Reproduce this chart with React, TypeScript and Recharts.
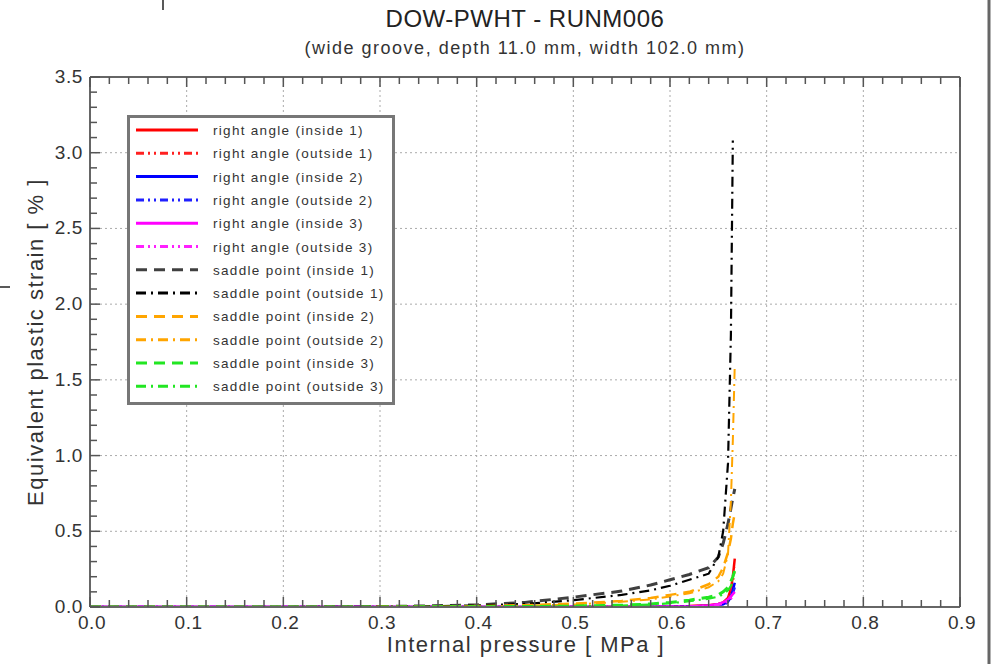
import React from 'react';
import {
  LineChart,
  Line,
  XAxis,
  YAxis,
  Legend,
  ReferenceLine,
} from 'recharts';

const FONT = '"Liberation Sans", Arial, Helvetica, sans-serif';

// internal pressure [MPa]
const pressure = [0, 0.05, 0.1, 0.15, 0.2, 0.25, 0.3, 0.35, 0.4, 0.45, 0.5, 0.55, 0.58, 0.6, 0.62, 0.64, 0.65, 0.655, 0.66, 0.663, 0.665, 0.667];

// equivalent plastic strain [%] per gauge location
const rightInside1 = [0, 0, 0, 0, 0, 0, 0, 0, 0, 0, 0, 0.001, 0.002, 0.003, 0.006, 0.012, 0.02, 0.03, 0.06, 0.12, 0.2, 0.32];
const rightOutside1 = [0, 0, 0, 0, 0, 0, 0, 0, 0, 0, 0, 0.001, 0.002, 0.003, 0.005, 0.01, 0.017, 0.025, 0.05, 0.1, 0.17, 0.26];
const rightInside2 = [0, 0, 0, 0, 0, 0, 0, 0, 0, 0, 0, 0, 0.001, 0.002, 0.004, 0.008, 0.012, 0.018, 0.035, 0.07, 0.11, 0.16];
const rightOutside2 = [0, 0, 0, 0, 0, 0, 0, 0, 0, 0, 0, 0, 0.001, 0.002, 0.003, 0.006, 0.01, 0.015, 0.03, 0.06, 0.09, 0.13];
const rightInside3 = [0, 0, 0, 0, 0, 0, 0, 0, 0, 0, 0, 0, 0.001, 0.002, 0.004, 0.01, 0.02, 0.03, 0.05, 0.07, 0.085, 0.1];
const rightOutside3 = [0, 0, 0, 0, 0, 0, 0, 0, 0, 0, 0, 0, 0.001, 0.002, 0.003, 0.008, 0.015, 0.022, 0.04, 0.055, 0.068, 0.08];
const saddleInside1 = [0, 0, 0, 0, 0, 0.001, 0.003, 0.007, 0.014, 0.03, 0.065, 0.105, 0.145, 0.18, 0.215, 0.26, 0.33, 0.42, 0.55, 0.65, 0.72, 0.78];
const saddleOutside1 = [0, 0, 0, 0, 0, 0.001, 0.002, 0.005, 0.01, 0.02, 0.045, 0.08, 0.11, 0.14, 0.18, 0.22, 0.33, 0.5, 0.95, 1.8, 3.08, null];
const saddleInside2 = [0, 0, 0, 0, 0, 0, 0.001, 0.003, 0.006, 0.012, 0.022, 0.04, 0.06, 0.08, 0.1, 0.15, 0.2, 0.26, 0.36, 0.45, 0.55, 0.62];
const saddleOutside2 = [0, 0, 0, 0, 0, 0, 0.001, 0.002, 0.005, 0.009, 0.016, 0.035, 0.05, 0.07, 0.09, 0.13, 0.17, 0.22, 0.35, 0.7, 1.1, 1.6];
const saddleInside3 = [0, 0, 0, 0, 0, 0, 0, 0.001, 0.002, 0.003, 0.006, 0.012, 0.02, 0.03, 0.045, 0.065, 0.08, 0.1, 0.13, 0.17, 0.2, 0.24];
const saddleOutside3 = [0, 0, 0, 0, 0, 0, 0, 0.001, 0.001, 0.002, 0.004, 0.009, 0.016, 0.025, 0.038, 0.055, 0.068, 0.085, 0.11, 0.14, 0.16, 0.18];

const xTickLabels = [0, 0.1, 0.2, 0.3, 0.4, 0.5, 0.6, 0.7, 0.8, 0.9];
const yTickLabels = [0, 0.5, 1.0, 1.5, 2.0, 2.5, 3.0, 3.5];

// minor ticks: every 0.02 MPa and every 0.1 %
const xTicks = Array.from({ length: 46 }, (_, i) => Math.round(i * 2) / 100);
const yTicks = Array.from({ length: 36 }, (_, i) => Math.round(i) / 10);

const SOLID = undefined;
const DASH_DOT_DOT = '8 4 2 4 2 4';
const DASHED = '11 7';
const DASH_DOT = '10 5 2 5';

const series = [
  { key: 'ri1', name: 'right angle (inside 1)', values: rightInside1, color: '#ff0000', dash: SOLID, width: 2.5 },
  { key: 'ro1', name: 'right angle (outside 1)', values: rightOutside1, color: '#ff2020', dash: DASH_DOT_DOT, width: 2.5 },
  { key: 'ri2', name: 'right angle (inside 2)', values: rightInside2, color: '#0000ff', dash: SOLID, width: 2.5 },
  { key: 'ro2', name: 'right angle (outside 2)', values: rightOutside2, color: '#2020ff', dash: DASH_DOT_DOT, width: 2.5 },
  { key: 'ri3', name: 'right angle (inside 3)', values: rightInside3, color: '#ff00ff', dash: SOLID, width: 2.5 },
  { key: 'ro3', name: 'right angle (outside 3)', values: rightOutside3, color: '#ff20ff', dash: DASH_DOT_DOT, width: 2.5 },
  { key: 'si1', name: 'saddle point (inside 1)', values: saddleInside1, color: '#404040', dash: DASHED, width: 3 },
  { key: 'so1', name: 'saddle point (outside 1)', values: saddleOutside1, color: '#000000', dash: DASH_DOT, width: 2.2 },
  { key: 'si2', name: 'saddle point (inside 2)', values: saddleInside2, color: '#ffa500', dash: DASHED, width: 2.5 },
  { key: 'so2', name: 'saddle point (outside 2)', values: saddleOutside2, color: '#ffa500', dash: DASH_DOT, width: 2 },
  { key: 'si3', name: 'saddle point (inside 3)', values: saddleInside3, color: '#22e622', dash: DASHED, width: 3 },
  { key: 'so3', name: 'saddle point (outside 3)', values: saddleOutside3, color: '#22e622', dash: DASH_DOT, width: 2.2 },
];

const data = pressure.map((p, i) => {
  const row: Record<string, number | null> = { p };
  series.forEach((s) => {
    row[s.key] = s.values[i];
  });
  return row;
});

const isMajor = (v: number, step: number) => Math.abs(v / step - Math.round(v / step)) < 1e-6;

const TICK_COLOR = '#555';
const LABEL_STYLE = { fontFamily: FONT, fontSize: 19, letterSpacing: 0.6, fill: '#333' };

function BottomTick({ x, y, payload }: any) {
  const major = isMajor(payload.value, 0.1);
  return (
    <g>
      <line x1={x} x2={x} y1={y} y2={y - (major ? 10 : 7)} stroke={TICK_COLOR} strokeWidth={1.5} />
      {major && (
        <text x={x + 2} y={y + 22} textAnchor="middle" style={LABEL_STYLE}>
          {payload.value.toFixed(1)}
        </text>
      )}
    </g>
  );
}

function TopTick({ x, y, payload }: any) {
  const major = isMajor(payload.value, 0.1);
  return <line x1={x} x2={x} y1={y} y2={y + (major ? 10 : 7)} stroke={TICK_COLOR} strokeWidth={1.5} />;
}

function LeftTick({ x, y, payload }: any) {
  const major = isMajor(payload.value, 0.5);
  return (
    <g>
      <line x1={x} x2={x + (major ? 10 : 7)} y1={y} y2={y} stroke={TICK_COLOR} strokeWidth={1.5} />
      {major && (
        <text x={x - 7} y={y + 6} textAnchor="end" style={LABEL_STYLE}>
          {payload.value.toFixed(1)}
        </text>
      )}
    </g>
  );
}

function RightTick({ x, y, payload }: any) {
  const major = isMajor(payload.value, 0.5);
  return <line x1={x} x2={x - (major ? 10 : 7)} y1={y} y2={y} stroke={TICK_COLOR} strokeWidth={1.5} />;
}

function LegendBox() {
  return (
    <div
      style={{
        width: 262,
        height: 284,
        border: '3px solid #777',
        background: '#fff',
        fontFamily: FONT,
      }}
    >
      <svg width={262} height={284}>
        {series.map((s, i) => {
          const cy = 12 + i * 23.3;
          return (
            <g key={s.key}>
              <line
                x1={6}
                x2={68}
                y1={cy}
                y2={cy}
                stroke={s.color}
                strokeWidth={3}
                strokeDasharray={s.dash}
              />
              <text x={83} y={cy + 5} fontSize={13.5} letterSpacing={1.3} fill="#333" fontFamily={FONT}>
                {s.name}
              </text>
            </g>
          );
        })}
      </svg>
    </div>
  );
}

export default function App() {
  return (
    <div
      style={{
        position: 'absolute',
        left: 0,
        top: 0,
        width: 992,
        height: 664,
        background: '#fff',
        fontFamily: FONT,
        overflow: 'hidden',
      }}
    >
      <div style={{ position: 'absolute', left: 0, width: 1050, top: 5, textAlign: 'center', fontSize: 24, letterSpacing: 0.5, color: '#222' }}>
        DOW-PWHT - RUNM006
      </div>
      <div style={{ position: 'absolute', left: 0, width: 1050, top: 38, textAlign: 'center', fontSize: 18, letterSpacing: 1.5, color: '#333' }}>
        (wide groove, depth 11.0 mm, width 102.0 mm)
      </div>
      <div
        style={{
          position: 'absolute',
          left: 36,
          top: 342,
          transform: 'translate(-50%, -50%) rotate(-90deg)',
          whiteSpace: 'nowrap',
          fontSize: 22,
          letterSpacing: 1.5,
          color: '#333',
        }}
      >
        Equivalent plastic strain [ % ]
      </div>
      <div style={{ position: 'absolute', left: 0, width: 1052, top: 632, textAlign: 'center', fontSize: 22, letterSpacing: 1.5, color: '#333' }}>
        Internal pressure [ MPa ]
      </div>

      <div style={{ position: 'absolute', left: 0, top: 0 }}>
        <LineChart width={992} height={664} data={data} margin={{ top: 76, right: 31, bottom: 0, left: 0 }}>
          <XAxis
            dataKey="p"
            type="number"
            domain={[0, 0.9]}
            ticks={xTicks}
            interval={0}
            allowDataOverflow
            height={57}
            tickSize={0}
            tickMargin={0}
            tick={<BottomTick />}
            axisLine={{ stroke: '#666', strokeWidth: 2 }}
          />
          <XAxis
            xAxisId="top"
            orientation="top"
            dataKey="p"
            type="number"
            domain={[0, 0.9]}
            ticks={xTicks}
            interval={0}
            height={1}
            tickSize={0}
            tickMargin={0}
            tick={<TopTick />}
            axisLine={{ stroke: '#666', strokeWidth: 2 }}
          />
          <YAxis
            type="number"
            domain={[0, 3.5]}
            ticks={yTicks}
            interval={0}
            allowDataOverflow
            width={90}
            tickSize={0}
            tickMargin={0}
            tick={<LeftTick />}
            axisLine={{ stroke: '#666', strokeWidth: 2 }}
          />
          <YAxis
            yAxisId="right"
            orientation="right"
            type="number"
            domain={[0, 3.5]}
            ticks={yTicks}
            interval={0}
            width={1}
            tickSize={0}
            tickMargin={0}
            tick={<RightTick />}
            axisLine={{ stroke: '#666', strokeWidth: 2 }}
          />
          {xTickLabels.slice(1, -1).map((v) => (
            <ReferenceLine key={`gx${v}`} x={v} stroke="#aaa" strokeDasharray="2 3" strokeWidth={1} />
          ))}
          {yTickLabels.slice(1, -1).map((v) => (
            <ReferenceLine key={`gy${v}`} y={v} stroke="#aaa" strokeDasharray="2 3" strokeWidth={1} />
          ))}
          {series.map((s) => (
            <Line
              key={s.key}
              dataKey={s.key}
              name={s.name}
              type="linear"
              stroke={s.color}
              strokeWidth={s.width}
              strokeDasharray={s.dash}
              dot={false}
              activeDot={false}
              connectNulls={false}
              isAnimationActive={false}
            />
          ))}
          <Legend
            layout="vertical"
            align="center"
            verticalAlign="middle"
            content={<LegendBox />}
            wrapperStyle={{ left: 127, top: 115, width: 268, height: 290 }}
          />
        </LineChart>
      </div>

      <svg width={992} height={664} style={{ position: 'absolute', left: 0, top: 0, pointerEvents: 'none' }}>
        <line x1={989} x2={989} y1={0} y2={664} stroke="#666" strokeWidth={3} />
        <line x1={163} x2={163} y1={0} y2={10} stroke="#222" strokeWidth={1.5} />
        <line x1={0} x2={10} y1={287} y2={287} stroke="#222" strokeWidth={1.5} />
      </svg>
    </div>
  );
}
